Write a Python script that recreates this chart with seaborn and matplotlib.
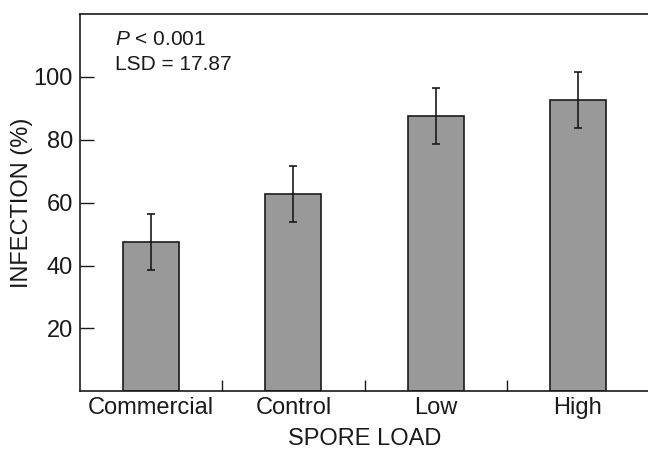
import numpy as np
import matplotlib
matplotlib.use('Agg')
import matplotlib.pyplot as plt
import seaborn as sns

categories = ['Commercial', 'Control', 'Low', 'High']
infection = [47.4, 62.6, 87.6, 92.8]
err = [8.9, 8.9, 8.9, 8.9]
y_ticks = [20, 40, 60, 80, 100]

sns.set_style('ticks')
plt.rcParams['font.family'] = ['Liberation Sans', 'DejaVu Sans']
plt.rcParams['mathtext.fontset'] = 'custom'
plt.rcParams['mathtext.rm'] = 'Liberation Sans'
plt.rcParams['mathtext.it'] = 'Liberation Sans:italic'

fig = plt.figure(figsize=(6.48, 4.49), dpi=100)
ax = fig.add_axes([0.1235, 0.1285, 0.878, 0.8403])

sns.barplot(x=categories, y=infection, order=categories, color='#999999',
            edgecolor='#1a1a1a', linewidth=1.2, width=0.394, errorbar=None,
            saturation=1, ax=ax)
ax.errorbar(np.arange(len(categories)), infection, yerr=err, fmt='none',
            ecolor='#1a1a1a', elinewidth=1.2, capsize=2.9, capthick=1.2)

ax.set_xlim(-0.5, 3.5)
ax.set_ylim(0, 120)
ax.set_yticks(y_ticks)
ax.set_xticks(np.arange(len(categories)))
ax.set_xticklabels(categories)
ax.set_xticks(np.arange(len(categories) - 1) + 0.5, minor=True)

ax.tick_params(axis='y', direction='in', length=10, width=1, labelsize=17, pad=5, colors='#1a1a1a')
ax.tick_params(axis='x', which='major', length=0, labelsize=17, pad=4, colors='#1a1a1a')
ax.tick_params(axis='x', which='minor', direction='in', length=8, width=1, colors='#1a1a1a')

for side in ['left', 'top', 'bottom']:
    ax.spines[side].set_linewidth(1.2)
    ax.spines[side].set_color('#1a1a1a')
ax.spines['right'].set_visible(False)

ax.set_ylabel('INFECTION (%)', fontsize=17, color='#1a1a1a')
ax.yaxis.set_label_coords(-0.083, 0.5)
ax.set_xlabel('SPORE LOAD', fontsize=17, color='#1a1a1a', va='top')
ax.xaxis.set_label_coords(0.5005, -0.097)

ax.text(0.0615, 0.918, r'$\mathit{P}$ < 0.001', transform=ax.transAxes,
        fontsize=15, va='baseline', ha='left', color='#1a1a1a')
ax.text(0.0615, 0.852, 'LSD = 17.87', transform=ax.transAxes,
        fontsize=15, va='baseline', ha='left', color='#1a1a1a')

fig.savefig('out.png', dpi=100)
